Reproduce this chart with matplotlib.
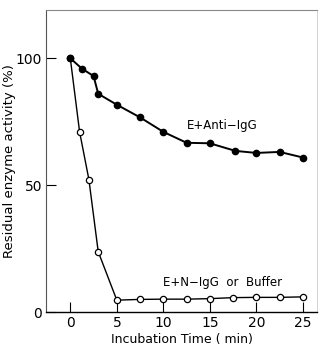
import matplotlib
matplotlib.use("Agg")
import matplotlib.pyplot as plt

plt.rcParams['font.family'] = ['DejaVu Sans']

# residual activity over time
t_anti = [0, 1.25, 2.5, 3, 5, 7.5, 10, 12.5, 15, 17.75, 20, 22.5, 25]
act_anti = [100, 95.9, 93, 86, 81.7, 76.7, 71, 66.7, 66.5, 63.5, 62.7, 63.1, 60.9]

t_buf = [0, 1, 2, 3, 5, 7.5, 10, 12.5, 15, 17.5, 20, 22.5, 25]
act_buf = [100, 71, 52.2, 23.8, 4.7, 5.0, 5.1, 5.1, 5.3, 5.7, 5.8, 5.8, 6.0]

xticks = [0, 5, 10, 15, 20, 25]
yticks = [0, 50, 100]

fig = plt.figure(figsize=(3.27, 3.46), dpi=100)
ax = fig.add_axes([0.141, 0.098, 0.828, 0.873])

ax.plot(t_buf, act_buf, color='black', lw=1.0, marker='o', ms=4.5,
        mfc='white', mec='black', mew=0.9, zorder=2)
ax.plot(t_anti, act_anti, color='black', lw=1.4, marker='o', ms=4.5,
        mfc='black', mec='black', zorder=3)

ax.text(12.5, 73.5, 'E+Anti\u2212IgG', fontsize=8.5, va='center')
ax.text(10.0, 11.5, 'E+N\u2212IgG  or  Buffer', fontsize=8.5, va='center')

ax.set_xlim(-2.6, 26.5)
ax.set_ylim(0, 119)
ax.set_xticks(xticks)
ax.set_yticks(yticks)
ax.tick_params(direction='in', length=7, width=0.8, labelsize=10, pad=3)

ax.set_xlabel('Incubation Time ( min)', fontsize=9)
ax.xaxis.set_label_coords(0.5, -0.068)
ax.set_ylabel('Residual enzyme activity (%)', fontsize=9.5)
ax.yaxis.set_label_coords(-0.11, 0.5)

ax.spines['bottom'].set_linewidth(1.0)
ax.spines['left'].set_color('#555555')
ax.spines['left'].set_linewidth(0.8)
ax.spines['top'].set_color('#888888')
ax.spines['right'].set_color('#cccccc')
ax.spines['right'].set_linewidth(0.6)

fig.savefig('out.png', dpi=100)
